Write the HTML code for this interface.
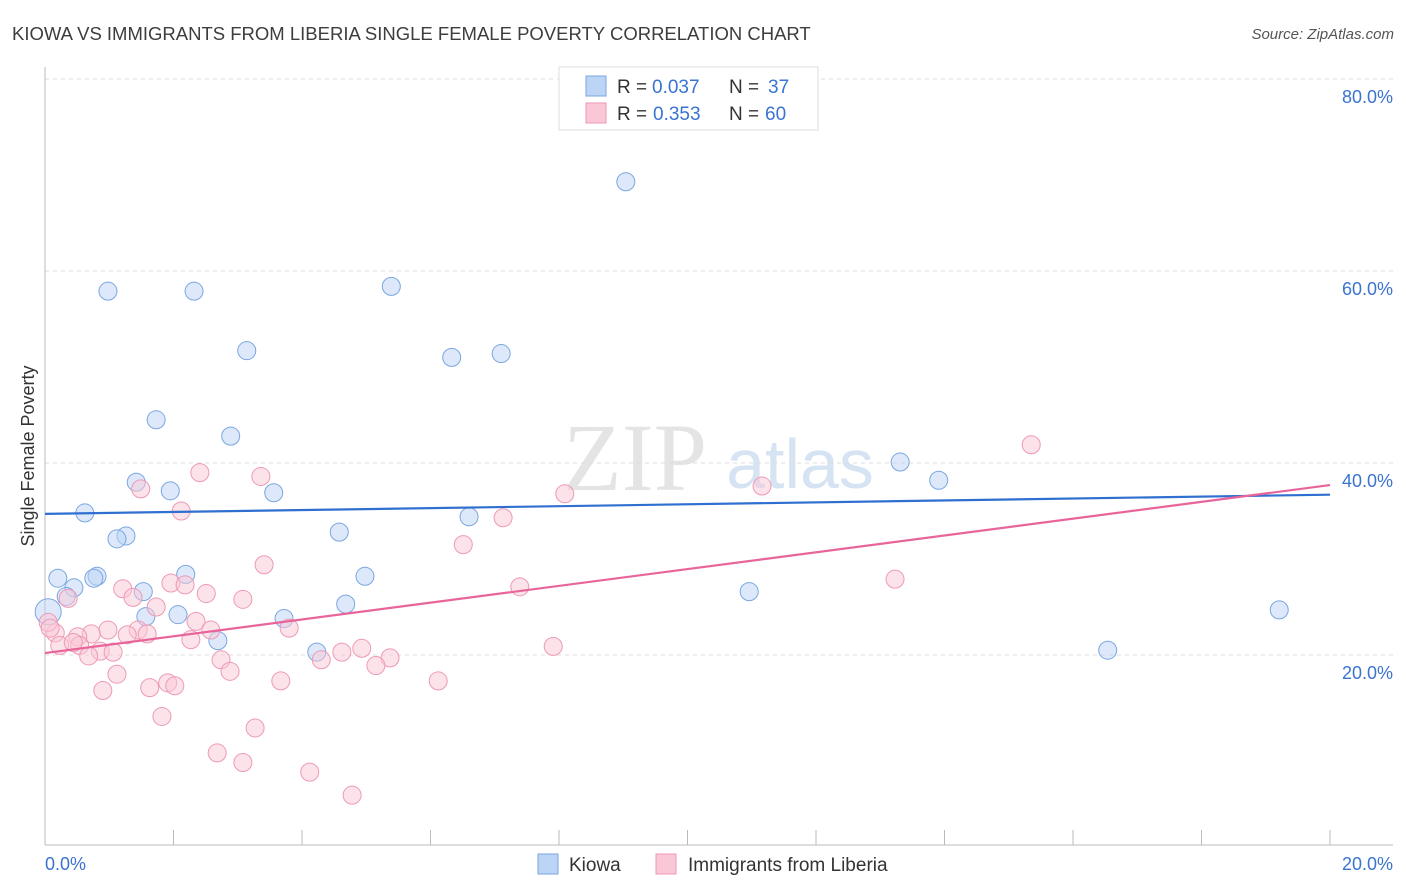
<!DOCTYPE html>
<html><head><meta charset="utf-8"><style>
body{margin:0;background:#fff;font-family:"Liberation Sans",sans-serif;}
svg{display:block}
</style></head><body>
<svg id="c" width="1406" height="892" xmlns="http://www.w3.org/2000/svg">
<text x="12" y="40" font-size="18.5" fill="#3d3d3d">KIOWA VS IMMIGRANTS FROM LIBERIA SINGLE FEMALE POVERTY CORRELATION CHART</text>
<text x="1394" y="39" font-size="15" fill="#555" font-style="italic" text-anchor="end">Source: ZipAtlas.com</text>
<text x="635" y="490" font-size="96" fill="#e4e4e4" font-family="Liberation Serif,serif" text-anchor="middle">ZIP</text>
<text x="800" y="488" font-size="70" fill="#d6e3f3" text-anchor="middle">atlas</text>
<g id="grid"></g><g id="axes"></g><g id="marks"></g>
<text transform="translate(34,456) rotate(-90)" font-size="18" fill="#333" text-anchor="middle">Single Female Poverty</text>
<g>
<rect x="559" y="67" width="259" height="63" fill="#fff" stroke="#ddd"/>
<rect x="586" y="76" width="20" height="20" fill="#bcd4f5" stroke="#7aa6e0"/>
<rect x="586" y="103" width="20" height="20" fill="#f9c7d6" stroke="#ee99b5"/>
<text y="93" font-size="19" fill="#333"><tspan x="617">R =</tspan><tspan x="652" fill="#3a73d0">0.037</tspan><tspan x="729">N =</tspan><tspan x="768" fill="#3a73d0">37</tspan></text>
<text y="120" font-size="19" fill="#333"><tspan x="617">R =</tspan><tspan x="653" fill="#3a73d0">0.353</tspan><tspan x="729">N =</tspan><tspan x="765" fill="#3a73d0">60</tspan></text>
</g>
<g>
<rect x="538" y="854" width="20" height="20" fill="#bcd4f5" stroke="#7aa6e0"/>
<text x="569" y="871" font-size="19" fill="#333">Kiowa</text>
<rect x="656" y="854" width="20" height="20" fill="#f9c7d6" stroke="#ee99b5"/>
<text x="688" y="871" font-size="19" fill="#333">Immigrants from Liberia</text>
</g>
</svg>
<script>
const kiowaX=[0.98,2.32,5.39,9.04,3.14,6.33,7.10,1.73,2.89,1.42,1.95,3.56,0.62,6.60,4.58,1.26,1.12,0.20,0.81,0.76,0.45,0.33,2.19,1.53,4.98,4.68,2.07,1.57,3.72,2.69,4.23,0.05,13.31,13.91,10.96,19.21,16.54];
const kiowaY=[57.9,57.9,58.4,69.3,51.7,51.0,51.4,44.5,42.8,38.0,37.1,36.9,34.8,34.4,32.8,32.4,32.1,28.0,28.2,28.0,27.0,26.1,28.4,26.6,28.2,25.3,24.2,24.0,23.8,21.5,20.3,24.5,40.1,38.2,26.6,24.7,20.5];
const liberiaX=[8.09,15.35,11.16,2.41,3.36,1.49,2.12,7.13,6.51,3.41,13.23,7.39,1.21,1.96,2.18,2.51,1.37,3.08,0.36,1.73,2.35,3.80,0.98,0.72,1.45,1.28,1.59,2.58,0.51,0.16,0.23,0.54,0.44,0.86,1.06,2.27,0.68,7.91,4.93,4.62,4.30,5.37,5.15,2.74,2.88,1.12,1.63,1.91,2.02,0.90,3.67,6.12,1.82,3.27,2.68,3.08,4.12,4.78,0.05,0.08];
const liberiaY=[36.8,41.9,37.6,39.0,38.6,37.3,35.0,34.3,31.5,29.4,27.9,27.1,26.9,27.5,27.3,26.4,26.0,25.8,25.9,25.0,23.5,22.8,22.6,22.2,22.6,22.1,22.2,22.6,21.9,22.3,21.0,21.0,21.3,20.4,20.3,21.6,19.9,20.9,20.7,20.3,19.5,19.7,18.9,19.5,18.3,18.0,16.6,17.1,16.8,16.3,17.3,17.3,13.6,12.4,9.8,8.8,7.8,5.4,23.4,22.8];
const trendKiowa=[34.7,36.7];
const trendLiberia=[20.2,37.7];
const yTicks=[20,40,60,80];
const xTickLabels=["0.0%","20.0%"];
const NS="http://www.w3.org/2000/svg";
const sx=v=>45+v*64.25, sy=v=>847-v*9.6;
function mk(tag,attrs,parent){const e=document.createElementNS(NS,tag);for(const k in attrs)e.setAttribute(k,attrs[k]);document.getElementById(parent).appendChild(e);return e;}
yTicks.forEach(t=>{
  const l=mk('line',{x1:45,x2:1393,y1:sy(t),y2:sy(t),stroke:'#ddd','stroke-dasharray':'4 4'},'grid');
  
  
  const tx=mk('text',{x:1393,y:sy(t)+24,'font-size':18,fill:'#3a73d0','text-anchor':'end'},'axes');
  tx.textContent=t.toFixed(1)+'%';
  
  
});
let l=mk('line',{x1:45,x2:45,y1:67,y2:845,stroke:'#bbb'},'axes');


l=mk('line',{x1:45,x2:1393,y1:845,y2:845,stroke:'#bbb'},'axes');


for(let i=0;i<=10;i++){
  const t=mk('line',{x1:sx(i*2),x2:sx(i*2),y1:830,y2:845,stroke:'#bbb'},'axes');
  
  
}
[0,20].forEach((v,i)=>{
  const t=mk('text',{x:i?1393:45,y:870,'font-size':18,fill:'#3a73d0','text-anchor':i?'end':'start'},'axes');
  t.textContent=xTickLabels[i];
  
  
});
function pts(X,Y,fill,stroke,name){
  X.forEach((x,i)=>{
    const big=(name==='kiowa-point'&&x<0.1);
    const c=mk('circle',{cx:sx(x),cy:sy(Y[i]),r:big?13:9,fill:fill,'fill-opacity':0.5,stroke:stroke,'stroke-width':1},'marks');
    
    
  });
}
pts(kiowaX,kiowaY,'#bcd4f5','#7aa6e0','kiowa-point');
pts(liberiaX,liberiaY,'#f9c7d6','#ee99b5','liberia-point');
l=mk('line',{x1:sx(0),y1:sy(trendKiowa[0]),x2:sx(20),y2:sy(trendKiowa[1]),stroke:'#2f6fd0','stroke-width':2.2},'marks');


l=mk('line',{x1:sx(0),y1:sy(trendLiberia[0]),x2:sx(20),y2:sy(trendLiberia[1]),stroke:'#e8649a','stroke-width':2.2},'marks');


</script>
</body></html>
